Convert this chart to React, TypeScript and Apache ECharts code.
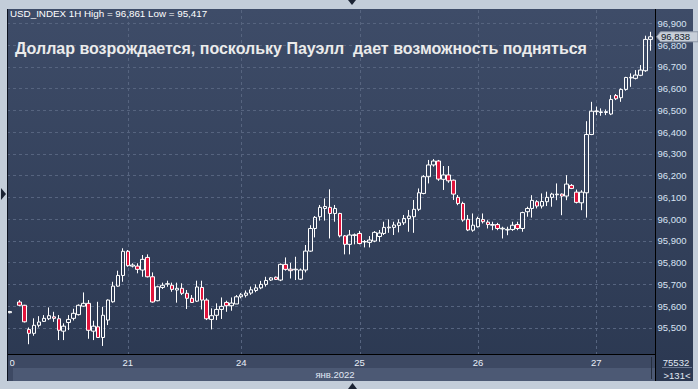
import React, { useEffect, useRef } from "react";
import * as echarts from "echarts";

const dayLabels = ["20", "21", "24", "25", "26", "27"];
const hoursPerDay = [24, 23, 24, 24, 24, 12];
const monthLabel = "янв.2022";
const symbolName = "USD_INDEX 1H";
const titleText = "Доллар возрождается, поскольку Пауэлл  дает возможность подняться";
const volumeText = "75532";

// hourly candles: open, close, low, high (null = no bar)
const opens = [
  95570, null, 95619, 95604, 95493, 95475, 95512, 95530, 95542, 95551, 95542, 95485, 95525, 95544, 95561, 95600,
  95613, 95485, 95505, 95456, 95536, 95620, 95692, 95741, 95852, 95784, 95784, 95766, 95824, 95735, 95625, 95686,
  95701, 95696, 95674, 95682, 95659, 95636, 95623, 95686, 95628, 95539, 95558, 95585, 95617, 95602, 95610, 95643,
  95650, 95660, 95672, 95684, 95700, 95720, 95733, 95720, 95792, 95770, 95767, 95724, 95766, 95853, 95957, 96011,
  96049, 96054, 96026, 96026, 95923, 95884, 95925, 95934, 95895, 95893, 95899, 95920, 95934, 95960, 95962, 95971,
  95983, 96003, 96011, 96045, 96118, 96195, 96249, 96267, 96183, 96203, 96179, 96100, 96072, 95999, 95949, 95965,
  95998, 95986, 95972, 95975, 95955, 95950, 95952, 95975, 95957, 96034, 96049, 96080, 96060, 96080, 96100, 96112,
  96115, 96106, 96155, 96124, 96075, 96121, 96389, 96494, 96490, 96490, 96483, 96568, 96558, 96596, 96649, 96647,
  96661, 96682, 96826,
];
const closes = [
  95575, null, 95604, 95528, 95475, 95512, 95527, 95544, 95556, 95544, 95489, 95508, 95539, 95567, 95604, 95613,
  95489, 95508, 95456, 95558, 95628, 95692, 95741, 95852, 95786, 95789, 95769, 95815, 95735, 95619, 95689, 95696,
  95703, 95677, 95682, 95659, 95636, 95617, 95688, 95628, 95542, 95556, 95585, 95599, 95602, 95614, 95643, 95652,
  95660, 95675, 95684, 95700, 95718, 95730, 95723, 95792, 95769, 95763, 95770, 95766, 95853, 95957, 96008, 96054,
  96058, 96026, 96049, 95923, 95884, 95927, 95928, 95888, 95897, 95904, 95939, 95936, 95962, 95963, 95973, 95983,
  96003, 96014, 96045, 96121, 96195, 96249, 96267, 96184, 96203, 96176, 96115, 96072, 95996, 95950, 95972, 96003,
  95988, 95975, 95975, 95957, 95958, 95953, 95972, 95957, 96030, 96049, 96086, 96060, 96081, 96100, 96115, 96115,
  96106, 96161, 96141, 96077, 96124, 96389, 96496, 96497, 96493, 96494, 96550, 96553, 96596, 96651, 96652, 96662,
  96685, 96826, 96838,
];
const lows = [
  95567, null, 95600, 95525, 95425, 95464, 95502, 95527, 95536, 95528, 95444, 95444, 95490, 95534, 95557, 95597,
  95450, 95444, 95454, 95417, 95513, 95616, 95689, 95712, 95781, 95778, 95751, 95735, 95732, 95616, 95622, 95679,
  95689, 95666, 95616, 95651, 95587, 95616, 95619, 95585, 95536, 95493, 95536, 95541, 95574, 95579, 95610, 95636,
  95640, 95652, 95664, 95678, 95690, 95716, 95720, 95715, 95763, 95727, 95720, 95720, 95755, 95850, 95916, 95993,
  95993, 95911, 95988, 95916, 95838, 95838, 95884, 95884, 95870, 95870, 95894, 95896, 95927, 95937, 95927, 95939,
  95973, 95942, 95937, 96037, 96114, 96164, 96241, 96176, 96134, 96167, 96088, 96064, 95988, 95945, 95942, 95961,
  95980, 95957, 95949, 95949, 95911, 95926, 95946, 95949, 95942, 96011, 96007, 96049, 96049, 96060, 96057, 96087,
  96018, 96087, 96138, 96072, 96041, 96007, 96386, 96478, 96475, 96478, 96478, 96547, 96539, 96590, 96608, 96642,
  96657, 96677, 96774,
];
const highs = [
  95578, null, 95628, 95606, 95502, 95544, 95554, 95559, 95594, 95574, 95559, 95521, 95559, 95588, 95608, 95663,
  95628, 95533, 95620, 95597, 95631, 95712, 95763, 95866, 95858, 95797, 95797, 95835, 95838, 95755, 95694, 95708,
  95717, 95708, 95708, 95705, 95674, 95651, 95717, 95717, 95636, 95590, 95613, 95640, 95625, 95640, 95651, 95660,
  95672, 95690, 95700, 95716, 95735, 95733, 95736, 95796, 95824, 95799, 95827, 95773, 95881, 95972, 96014, 96065,
  96095, 96137, 96065, 96029, 95927, 95950, 95934, 95946, 95904, 95922, 95945, 95950, 95988, 95999, 95988, 95999,
  96019, 96042, 96088, 96141, 96202, 96272, 96276, 96272, 96244, 96244, 96182, 96111, 96080, 96019, 96026, 96011,
  96026, 95995, 95988, 95983, 95965, 95965, 95988, 95988, 96034, 96057, 96110, 96087, 96118, 96126, 96121, 96164,
  96118, 96202, 96161, 96136, 96133, 96450, 96539, 96517, 96509, 96504, 96570, 96575, 96601, 96654, 96670, 96685,
  96708, 96843, 96861,
];

const yMin = 95400;
const yMax = 97000;
const yStep = 100;
const yLabelMin = 95500;
const yLabelMax = 96900;

const categories: string[] = [];
const dayStarts: number[] = [];
dayLabels.forEach((d, di) => {
  dayStarts.push(categories.length);
  for (let h = 0; h < hoursPerDay[di]; h++) categories.push(d + " " + String(h).padStart(2, "0") + ":00");
});

const fmt = (v: number) => {
  const s = String(Math.round(v));
  return s.slice(0, -3) + "," + s.slice(-3);
};

const candleData = opens.map((o, i) =>
  o == null ? ["-", "-", "-", "-"] : [o, closes[i], lows[i], highs[i]]
);

const validHighs = highs.filter((v) => v != null) as number[];
const validLows = lows.filter((v) => v != null) as number[];
const headerText = `${symbolName} High = ${fmt(Math.max(...validHighs))} Low = ${fmt(Math.min(...validLows))}`;
const lastClose = closes[closes.length - 1] as number;

const FONT = "Liberation Sans, Arial, sans-serif";

export default function App() {
  const ref = useRef<HTMLDivElement>(null);
  useEffect(() => {
    const chart = echarts.init(ref.current!, null, { renderer: "svg" });
    chart.setOption({
      animation: false,
      backgroundColor: "#c3cdd9",
      grid: { left: 7, right: 45, top: 1.54, bottom: 39.34, containLabel: false },
      xAxis: {
        type: "category",
        data: categories,
        boundaryGap: true,
        axisLine: { show: false },
        axisTick: { show: false },
        splitLine: { show: false },
        axisLabel: {
          interval: (i: number) => dayStarts.includes(i),
          formatter: (_v: string, i: number) => {
            const k = dayStarts.indexOf(i);
            return k >= 0 ? dayLabels[k] : "";
          },
          margin: 8,
          color: "#e8eef8",
          fontSize: 9.5,
          fontFamily: FONT,
        },
      },
      yAxis: {
        type: "value",
        position: "right",
        min: yMin,
        max: yMax,
        interval: yStep,
        axisLine: { show: false },
        axisTick: { show: false },
        splitLine: {
          show: true,
          showMinLine: false,
          showMaxLine: false,
          lineStyle: { color: "#56647f", type: [3, 3], width: 1 },
        },
        axisLabel: {
          margin: 4.5,
          formatter: (v: number) => (v >= yLabelMin && v <= yLabelMax ? fmt(v) : ""),
          color: "#d8e3f3",
          fontSize: 9.5,
          fontFamily: FONT,
        },
      },
      series: [
        {
          type: "candlestick",
          data: candleData,
          barWidth: 4,
          itemStyle: {
            color: "rgba(0,0,0,0)",
            color0: "#e0143c",
            borderColor: "#ffffff",
            borderColor0: "#ffffff",
            borderWidth: 1,
          },
        },
      ],
    });

    const xPix = (i: number) => chart.convertToPixel({ xAxisIndex: 0 }, i) as number;
    const yTag = chart.convertToPixel({ yAxisIndex: 0 }, lastClose) as number;

    const vlines = dayStarts.slice(1).map((i) => {
      const x = Math.round(xPix(i)) + 0.5;
      return {
        type: "line",
        z: -5,
        silent: true,
        shape: { x1: x, y1: 10, x2: x, y2: 354 },
        style: { stroke: "#56647f", lineWidth: 1, lineDash: [3, 3] },
      };
    });

    const graphics: any[] = [
      {
        type: "rect",
        z: -10,
        shape: { x: 8, y: 9, width: 685, height: 372 },
        style: {
          fill: new echarts.graphic.LinearGradient(0, 0, 0, 1, [
            { offset: 0, color: "#3e4c68" },
            { offset: 1, color: "#2b3851" },
          ]),
        },
      },
      { type: "rect", z: -9, shape: { x: 8, y: 355, width: 647, height: 13 }, style: { fill: "#3d4963" } },
      { type: "rect", z: -9, shape: { x: 8, y: 368, width: 647, height: 13 }, style: { fill: "#4c5974" } },
      { type: "rect", z: -8, shape: { x: 8, y: 368, width: 5, height: 13 }, style: { fill: "#3d4963" } },
      ...vlines,
      { type: "line", z: 20, shape: { x1: 8, y1: 354.5, x2: 655, y2: 354.5 }, style: { stroke: "#000000", lineWidth: 1 } },
      { type: "line", z: 20, shape: { x1: 655.5, y1: 9, x2: 655.5, y2: 381 }, style: { stroke: "#000000", lineWidth: 1 } },
      { type: "line", z: 20, shape: { x1: 651.5, y1: 357, x2: 651.5, y2: 379 }, style: { stroke: "#252e3e", lineWidth: 1 } },
      { type: "rect", z: 30, shape: { x: 0, y: 0, width: 7, height: 389 }, style: { fill: "#c3cdd9" } },
      { type: "rect", z: 30, shape: { x: 8, y: 355, width: 1.8, height: 13 }, style: { fill: "#3d4963" } },
      { type: "line", z: 30, shape: { x1: 7.5, y1: 9, x2: 7.5, y2: 381 }, style: { stroke: "#0d1320", lineWidth: 1 } },
      {
        type: "text",
        z: 40,
        x: 676,
        y: 362,
        style: { text: volumeText, fill: "#e0e8f4", font: `9.5px ${FONT}`, align: "center", verticalAlign: "middle" },
      },
      { type: "line", z: 40, shape: { x1: 662, y1: 367.5, x2: 692, y2: 367.5 }, style: { stroke: "#6b7791", lineWidth: 1 } },
      {
        type: "text",
        z: 40,
        x: 677,
        y: 375,
        style: { text: `>${categories.length}<`, fill: "#e0e8f4", font: `9.5px ${FONT}`, align: "center", verticalAlign: "middle" },
      },
      {
        type: "text",
        z: 40,
        x: 335,
        y: 374.5,
        style: { text: monthLabel, fill: "#e0e8f4", font: `9.5px ${FONT}`, align: "center", verticalAlign: "middle" },
      },
      {
        type: "text",
        z: 40,
        x: 10,
        y: 13.5,
        style: { text: headerText, fill: "#ffffff", font: `9.8px ${FONT}`, align: "left", verticalAlign: "middle" },
      },
      {
        type: "text",
        z: 40,
        x: 15,
        y: 48,
        style: { text: titleText, fill: "#ebebeb", font: `bold 16px ${FONT}`, align: "left", verticalAlign: "middle" },
      },
      { type: "polygon", z: 40, shape: { points: [[348, 0], [356, 0], [352, 5]] }, style: { fill: "#1b2333" } },
      { type: "polygon", z: 40, shape: { points: [[1, 188], [1, 200], [6, 194]] }, style: { fill: "#1b2333" } },
      { type: "polygon", z: 40, shape: { points: [[348, 389], [357, 389], [352.5, 383]] }, style: { fill: "#1b2333" } },
      {
        type: "polygon",
        z: 45,
        shape: {
          points: [
            [656.5, yTag],
            [660.5, yTag - 5],
            [698, yTag - 5],
            [698, yTag + 5],
            [660.5, yTag + 5],
          ],
        },
        style: { fill: "#c8cfd9", stroke: "#8d97a8", lineWidth: 1 },
      },
      {
        type: "text",
        z: 46,
        x: 661,
        y: yTag,
        style: { text: fmt(lastClose), fill: "#101828", font: `9.5px ${FONT}`, align: "left", verticalAlign: "middle" },
      },
    ];

    chart.setOption({ graphic: graphics });
    return () => chart.dispose();
  }, []);
  return <div ref={ref} style={{ position: "fixed", left: 0, top: 0, width: 698, height: 389 }} />;
}
